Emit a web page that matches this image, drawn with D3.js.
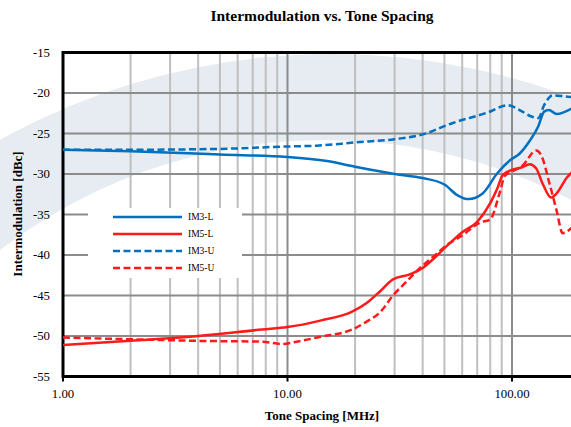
<!DOCTYPE html>
<html>
<head>
<meta charset="utf-8">
<script src="https://cdn.jsdelivr.net/npm/d3@7"></script>
<style>
  html, body { margin: 0; padding: 0; background: #fff; }
  svg { display: block; font-family: "Liberation Serif", "Times New Roman", serif; }
</style>
</head>
<body>
<div id="vis"></div>
<script>
// tone spacing vs IM levels

const im3LFreq = [1, 2, 5, 10, 15, 20, 30, 40, 50, 57, 64, 74, 86, 98, 108, 120, 131, 139, 146, 158, 185];
const im3L     = [-27.0, -27.2, -27.6, -27.9, -28.4, -29.1, -30.0, -30.5, -31.3, -32.6, -33.1, -32.4, -29.9, -28.3, -27.5, -25.9, -24.1, -22.3, -22.1, -22.6, -21.9];

const im5LFreq = [1, 2, 4, 7.7, 10, 14, 19.4, 22.6, 25.8, 29.5, 35, 40, 45, 49, 55, 60, 70, 80, 86, 91, 100, 110, 120, 128, 137, 149, 158, 176, 185];
const im5L     = [-51.1, -50.6, -50.0, -49.2, -48.9, -48.1, -47.0, -45.9, -44.5, -43.0, -42.4, -41.6, -40.4, -39.4, -38.1, -37.2, -35.9, -33.6, -31.8, -30.1, -29.5, -29.2, -28.8, -29.3, -31.2, -32.9, -32.4, -30.4, -29.8];

const im3UFreq = [1, 2, 5, 10, 13.5, 20, 30, 39, 54.5, 78, 96, 108, 122, 131, 139, 152, 170, 185];
const im3U     = [-27.0, -27.0, -26.9, -26.6, -26.5, -26.1, -25.7, -25.2, -23.7, -22.4, -21.5, -22.1, -22.9, -23.1, -21.5, -20.3, -20.4, -20.5];

const im5UFreq = [1, 2, 4, 7.7, 9.5, 11, 14, 19.4, 22.6, 25.8, 29.5, 33, 37.6, 42, 46, 51, 60, 72, 80, 88, 93, 100, 112, 128, 135, 147, 158, 168, 185];
const im5U     = [-50.2, -50.4, -50.6, -50.7, -51.0, -50.7, -50.1, -49.2, -48.2, -47.1, -45.0, -43.6, -42.0, -40.8, -39.9, -38.8, -37.6, -36.0, -35.6, -32.4, -30.2, -29.7, -28.9, -27.1, -27.7, -31.2, -34.5, -37.3, -36.6];

const yTicks = [-15, -20, -25, -30, -35, -40, -45, -50, -55];
const xTicks = [1, 10, 100];
const xTickLabels = ["1.00", "10.00", "100.00"];

const seriesNames = ["IM3-L", "IM5-L", "IM3-U", "IM5-U"];

const series = [
  { name: seriesNames[0], f: im3LFreq, v: im3L, color: "#0070c0", dash: null },
  { name: seriesNames[1], f: im5LFreq, v: im5L, color: "#ff1a1a", dash: null },
  { name: seriesNames[2], f: im3UFreq, v: im3U, color: "#0070c0", dash: "7,3.5" },
  { name: seriesNames[3], f: im5UFreq, v: im5U, color: "#ff1a1a", dash: "7,3.5" }
];

const W = 571, H = 427;
const plotLeft = 63, plotTop = 52.5, plotBottom = 376.5;
const decade = 224.5;

const svg = d3.select('#vis').append('svg')
  .attr('width', W)
  .attr('height', H);

// log x runs past the right edge of the picture, like the original
const x = d3.scaleLog().domain([1, 1000]).range([plotLeft, plotLeft + 3 * decade]);
const y = d3.scaleLinear().domain([-55, -15]).range([plotBottom, plotTop]);

// faint ring watermark behind everything
svg.append('path')
  .attr('d',
    `M${332 - 686},740 a686,686 0 1,0 1372,0 a686,686 0 1,0 -1372,0 ` +
    `M${325 - 535},675 a535,535 0 1,0 1070,0 a535,535 0 1,0 -1070,0`)
  .attr('fill', '#e6ecf2')
  .attr('fill-rule', 'evenodd');

const grid = svg.append('g');

// vertical grid: minor lines lighter, decades darker
const minor = [];
for (let d = 1; d <= 100; d *= 10) {
  for (let k = 2; k <= 9; k++) minor.push(d * k);
}
grid.selectAll('line.vminor').data(minor).enter().append('line')
  .attr('x1', d => x(d)).attr('x2', d => x(d))
  .attr('y1', plotTop).attr('y2', plotBottom)
  .attr('stroke', '#bfbfbf').attr('stroke-width', 2);

grid.selectAll('line.vmajor').data(xTicks.slice(1)).enter().append('line')
  .attr('x1', d => x(d)).attr('x2', d => x(d))
  .attr('y1', plotTop).attr('y2', plotBottom)
  .attr('stroke', '#8c8c8c').attr('stroke-width', 2);

grid.selectAll('line.h').data(yTicks.slice(1, -1)).enter().append('line')
  .attr('x1', plotLeft).attr('x2', W)
  .attr('y1', d => y(d)).attr('y2', d => y(d))
  .attr('stroke', '#8c8c8c').attr('stroke-width', 2);

// frame: top, left, bottom in black
svg.append('line').attr('x1', plotLeft).attr('x2', W).attr('y1', plotTop).attr('y2', plotTop)
  .attr('stroke', '#000').attr('stroke-width', 3);
svg.append('line').attr('x1', plotLeft).attr('x2', plotLeft).attr('y1', plotTop - 1.5).attr('y2', plotBottom + 1.5)
  .attr('stroke', '#000').attr('stroke-width', 3);
svg.append('line').attr('x1', plotLeft).attr('x2', W).attr('y1', plotBottom).attr('y2', plotBottom)
  .attr('stroke', '#000').attr('stroke-width', 3);

// x ticks below the axis
svg.selectAll('line.xt').data(xTicks).enter().append('line')
  .attr('x1', d => x(d)).attr('x2', d => x(d))
  .attr('y1', plotBottom).attr('y2', plotBottom + 5)
  .attr('stroke', '#000').attr('stroke-width', 2);

svg.selectAll('text.xt').data(xTicks).enter().append('text')
  .attr('x', d => x(d)).attr('y', 394)
  .attr('text-anchor', 'middle').attr('dominant-baseline', 'central')
  .attr('font-size', 12.8)
  .text((d, i) => xTickLabels[i]);

svg.selectAll('text.yt').data(yTicks).enter().append('text')
  .attr('x', 50).attr('y', d => y(d))
  .attr('text-anchor', 'end').attr('dominant-baseline', 'central')
  .attr('font-size', 12.8)
  .text(d => d);

// titles
svg.append('text').attr('x', 322).attr('y', 15)
  .attr('text-anchor', 'middle').attr('dominant-baseline', 'central')
  .attr('font-size', 15.5).attr('font-weight', 'bold')
  .text('Intermodulation vs. Tone Spacing');

svg.append('text').attr('x', 322).attr('y', 415)
  .attr('text-anchor', 'middle').attr('dominant-baseline', 'central')
  .attr('font-size', 13).attr('font-weight', 'bold')
  .text('Tone Spacing [MHz]');

svg.append('text')
  .attr('transform', 'translate(17,214) rotate(-90)')
  .attr('text-anchor', 'middle').attr('dominant-baseline', 'central')
  .attr('font-size', 13).attr('font-weight', 'bold')
  .text('Intermodulation [dBc]');

// curves
const line = d3.line()
  .x(d => x(d[0]))
  .y(d => y(d[1]))
  .curve(d3.curveMonotoneX);

const plot = svg.append('g');
series.forEach(s => {
  plot.append('path')
    .datum(s.f.map((f, i) => [f, s.v[i]]))
    .attr('d', line)
    .attr('fill', 'none')
    .attr('stroke', s.color)
    .attr('stroke-width', 2.5)
    .attr('stroke-dasharray', s.dash);
});

// legend box covers the grid
const legend = svg.append('g');
legend.append('rect')
  .attr('x', 88).attr('y', 208).attr('width', 154).attr('height', 70)
  .attr('fill', '#fff');

const legendRow = d3.scaleBand().domain(seriesNames).range([208.5, 276.5]);

series.forEach(s => {
  const ry = legendRow(s.name) + legendRow.bandwidth() / 2;
  legend.append('line')
    .attr('x1', 113).attr('x2', 182).attr('y1', ry).attr('y2', ry)
    .attr('stroke', s.color).attr('stroke-width', 2.5)
    .attr('stroke-dasharray', s.dash);
  legend.append('text')
    .attr('x', 188).attr('y', ry)
    .attr('dominant-baseline', 'central')
    .attr('font-size', 9.5)
    .text(s.name);
});
</script>
</body>
</html>
